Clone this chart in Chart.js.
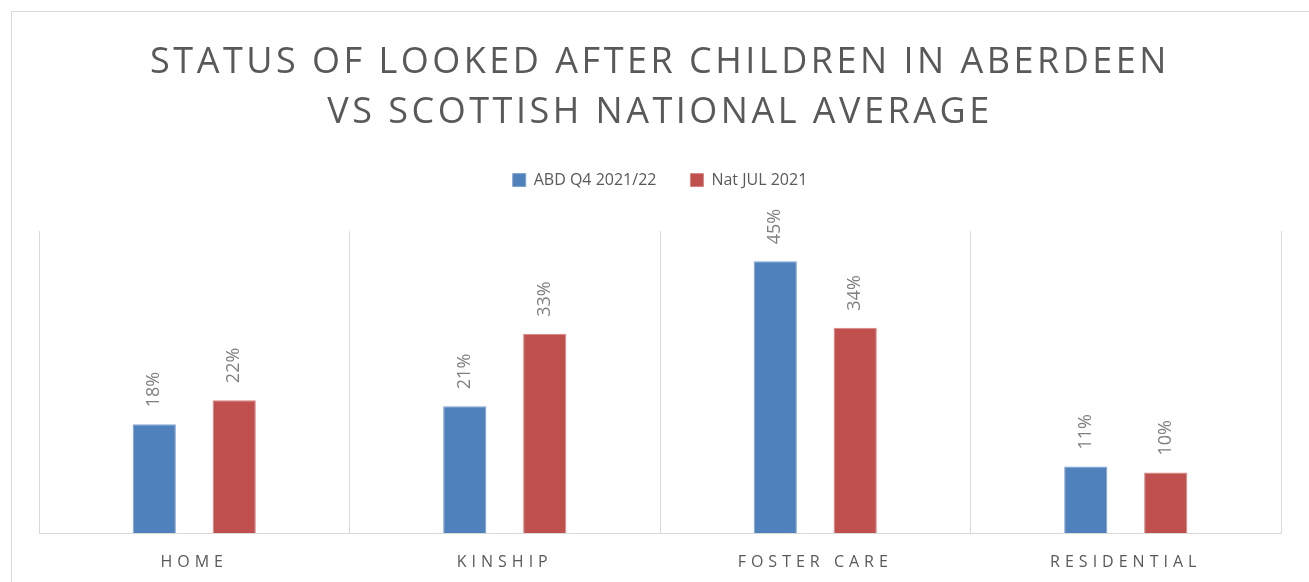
<!DOCTYPE html>
<html lang="en">
<head>
  <meta charset="UTF-8" />
  <title>Status of Looked After Children</title>
  <style>
    * { margin: 0; padding: 0; box-sizing: border-box; }
    body { background: #fff; width: 1309px; height: 582px; overflow: hidden; position: relative; }
    #frame {
      position: absolute; left: 11px; top: 11px;
      width: 1400px; height: 700px;
      border: 1px solid #d9d9d9;
    }
    #wrap { position: absolute; left: 0; top: 0; width: 1309px; height: 582px; }
  </style>
</head>
<body>
  <div id="frame"></div>
  <div id="wrap"><canvas id="chart" width="1309" height="582"></canvas></div>
  <script src="https://cdn.jsdelivr.net/npm/chart.js"></script>
  <script>
    const categories = ["HOME", "KINSHIP", "FOSTER CARE", "RESIDENTIAL"];
    const abdValues = [18, 21, 45, 11];
    const natValues = [22, 33, 34, 10];
    const seriesNames = ["ABD Q4 2021/22", "Nat JUL 2021"];
    const titleLines = ["STATUS OF LOOKED AFTER CHILDREN IN ABERDEEN", "VS SCOTTISH NATIONAL AVERAGE"];

    const FONT = "'Open Sans', 'Liberation Sans', sans-serif";

    // letter spacing for title + category labels, extra room under the legend
    const spacing = {
      id: 'spacing',
      beforeLayout(chart) {
        const lg = chart.legend;
        if (lg && !lg._padded) {
          const f = lg.fit.bind(lg);
          lg.fit = function() { f(); this.height += 33; };
          lg._padded = true;
        }
      },
      beforeDraw(chart) {
        const ctx = chart.ctx;
        const tb = chart.titleBlock;
        if (tb && !tb._spaced) {
          const d = tb.draw.bind(tb);
          tb.draw = function(a) { ctx.letterSpacing = '3.5px'; d(a); ctx.letterSpacing = '0px'; };
          tb._spaced = true;
        }
        const xs = chart.scales.x;
        if (xs && !xs._spaced) {
          const d = xs.drawLabels.bind(xs);
          xs.drawLabels = function(a) { ctx.letterSpacing = '5px'; d(a); ctx.letterSpacing = '0px'; };
          xs._spaced = true;
        }
      }
    };

    // rotated % labels above each bar
    const barLabels = {
      id: 'barLabels',
      afterDatasetsDraw(chart) {
        const ctx = chart.ctx;
        ctx.save();
        ctx.font = "18px " + FONT;
        ctx.fillStyle = '#7f7f7f';
        ctx.textAlign = 'left';
        ctx.textBaseline = 'middle';
        chart.data.datasets.forEach((ds, i) => {
          chart.getDatasetMeta(i).data.forEach((bar, j) => {
            ctx.save();
            ctx.translate(bar.x, bar.y - 17);
            ctx.rotate(-Math.PI / 2);
            ctx.fillText(ds.data[j] + '%', 0, 0);
            ctx.restore();
          });
        });
        ctx.restore();
      }
    };

    new Chart(document.getElementById('chart'), {
      type: 'bar',
      data: {
        labels: categories,
        datasets: [
          { label: seriesNames[0], data: abdValues, backgroundColor: '#4f81bd', borderColor: '#7ea3d1', borderWidth: 1 },
          { label: seriesNames[1], data: natValues, backgroundColor: '#c0504d', borderColor: '#d98482', borderWidth: 1 }
        ]
      },
      options: {
        responsive: false,
        animation: false,
        layout: { padding: { left: 39, right: 28, top: 0, bottom: 0 } },
        datasets: { bar: { categoryPercentage: 0.515, barPercentage: 0.54 } },
        plugins: {
          title: {
            display: true,
            text: titleLines,
            color: '#595959',
            font: { family: FONT, size: 36, weight: '400', lineHeight: 1.39 },
            padding: { top: 38, bottom: 0 }
          },
          legend: {
            position: 'top',
            labels: {
              color: '#595959',
              font: { family: FONT, size: 16 },
              boxWidth: 13, boxHeight: 13,
              padding: 34
            }
          },
          tooltip: { enabled: false }
        },
        scales: {
          x: {
            grid: { offset: true, color: '#d9d9d9', drawTicks: false },
            border: { color: '#d9d9d9' },
            ticks: { color: '#595959', font: { family: FONT, size: 16 }, padding: 20 },
            afterFit(scale) { scale.height = 49; }
          },
          y: {
            display: false,
            min: 0, max: 50
          }
        }
      },
      plugins: [spacing, barLabels]
    });
  </script>
</body>
</html>
